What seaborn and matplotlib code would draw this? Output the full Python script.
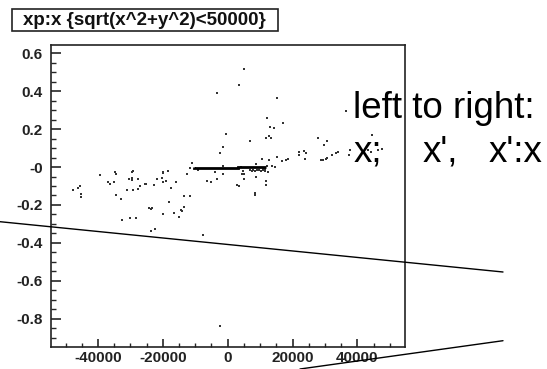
import matplotlib
matplotlib.use("Agg")
import matplotlib.pyplot as plt
import seaborn as sns
import numpy as np
import pandas as pd
from matplotlib.lines import Line2D
from matplotlib.patches import Rectangle
from matplotlib.ticker import FixedLocator, FixedFormatter, MultipleLocator

# ---- data ----
x_vals = [-47700, -46200, -45600, -45140, -45140, -39300, -34900, -34460, -36830, -36370,
          -34920, -34370, -32990, -30590, -29540, -29540, -27660, -29600, -29080, -30990,
          -29080, -27540, -27080, -25600, -25140, -22770, -21750, -20370, -19820, -19820,
          -18430, -18890, -19820, -17970, -24220, -23690, -23200, -19820, -32520, -30060,
          -28160, -23750, -22280, -17540, -15970, -13600, -11600, -13540, -14520, -14120,
          -16460, -14990, -7750, -2370, -12520, -11080, -11600, -9140, -1450, -2370,
          -1450, -3820, -1450, -6280, -5290, -3390, -3290, -430, 4920, 3480,
          15080, 12190, 17080, 13110, 14150, 6860, 11690, 12620, 13230, 4090,
          4800, 4550, 5020, 4920, 8710, 11690, 11690, 2950, 3420, 8310,
          8310, 8860, 10710, 12710, 15170, 16620, 18000, 18550, 12190, 13630,
          14650, 6860, 7480, 7940, 8400, 9170, 9630, 10250, 11020, 11480,
          10860, 11480, 12400, 27790, 30710, 29720, 36560, 44650, 22030, 23570,
          24090, 21850, 23880, 28710, 29320, 30340, 30770, 32310, 33320, 33940,
          37480, 37790, 43320, 44090, 46400, 47690]
y_vals = [-0.122, -0.113, -0.101, -0.144, -0.158, -0.043, -0.028, -0.035, -0.080, -0.087,
          -0.080, -0.146, -0.167, -0.065, -0.060, -0.071, -0.065, -0.028, -0.021, -0.122,
          -0.122, -0.114, -0.101, -0.087, -0.087, -0.095, -0.065, -0.057, -0.024, -0.031,
          -0.021, -0.074, -0.080, -0.183, -0.218, -0.224, -0.218, -0.248, -0.277, -0.269,
          -0.269, -0.335, -0.328, -0.109, -0.080, -0.152, -0.152, -0.211, -0.226, -0.233,
          -0.241, -0.261, -0.357, -0.838, -0.037, 0.023, -0.007, -0.013, 0.104, 0.074,
          0.008, -0.028, -0.036, -0.072, -0.079, -0.065, 0.389, 0.176, 0.519, 0.433,
          0.366, 0.258, 0.235, 0.213, 0.206, 0.140, 0.155, 0.162, 0.155, -0.001,
          -0.019, -0.037, -0.037, -0.065, -0.051, -0.074, -0.095, -0.095, -0.101, -0.139,
          -0.146, 0.016, 0.045, 0.037, 0.052, 0.030, 0.037, 0.044, 0.008, 0.007,
          0.000, -0.016, -0.021, -0.016, -0.021, -0.013, -0.016, -0.023, -0.016, -0.023,
          -0.012, -0.012, -0.026, 0.155, 0.140, 0.118, 0.298, 0.170, 0.081, 0.087,
          0.074, 0.066, 0.040, 0.037, 0.037, 0.043, 0.046, 0.064, 0.074, 0.078,
          0.066, 0.090, 0.090, 0.081, 0.090, 0.094]

prof_edges = [-10300, 3200, 11800]
prof_vals = [-0.006, 0.001]

y_ticks = [-0.8, -0.6, -0.4, -0.2, 0.0, 0.2, 0.4, 0.6]
y_ticklabels = ["-0.8", "-0.6", "-0.4", "-0.2", "-0", "0.2", "0.4", "0.6"]
x_ticks = [-40000, -20000, 0, 20000, 40000]
x_ticklabels = ["-40000", "-20000", "0", "20000", "40000"]

title_text = "xp:x {sqrt(x^2+y^2)<50000}"
note_line1 = "left to right:"
note_words = ["x;", "x',", "x':x"]

# ---- figure ----
sns.set_style("white")
plt.rcParams['font.family'] = ['Liberation Sans', 'DejaVu Sans']

W, H = 547, 369
fig = plt.figure(figsize=(W / 100, H / 100), dpi=100)
fig.patch.set_facecolor("white")
ax = fig.add_axes([51 / W, 1 - 346.7 / H, (405 - 51) / W, (346.7 - 45) / H])

df = pd.DataFrame({"x": x_vals, "y": y_vals})
sns.scatterplot(data=df, x="x", y="y", ax=ax, s=3.5, marker="s", color="#333333",
                linewidth=0, legend=False)
ax.stairs(prof_vals, prof_edges, color="black", linewidth=2)

ax.set_xlim(-54500, 54700)
ax.set_ylim(-0.948, 0.644)
ax.set_xlabel("")
ax.set_ylabel("")

ax.yaxis.set_major_locator(FixedLocator(y_ticks))
ax.yaxis.set_major_formatter(FixedFormatter(y_ticklabels))
ax.yaxis.set_minor_locator(MultipleLocator(0.05))
ax.xaxis.set_major_locator(FixedLocator(x_ticks))
ax.xaxis.set_major_formatter(FixedFormatter(x_ticklabels))
ax.xaxis.set_minor_locator(MultipleLocator(5000))

ax.tick_params(axis="y", which="major", direction="in", length=7, width=1.2,
               labelsize=11, pad=6, left=True, right=False)
ax.tick_params(axis="y", which="minor", direction="in", length=3.5, width=1.0,
               left=True, right=False)
ax.tick_params(axis="x", which="major", direction="in", length=5.5, width=1.2,
               labelsize=11, pad=3, bottom=True, top=False)
ax.tick_params(axis="x", which="minor", direction="in", length=3, width=1.0,
               bottom=True, top=False)
for lab in ax.get_xticklabels() + ax.get_yticklabels():
    lab.set_fontweight("bold")
    lab.set_color("#222222")
for sp in ax.spines.values():
    sp.set_visible(True)
    sp.set_color("#222222")
    sp.set_linewidth(1.2)

# title box
fig.add_artist(Rectangle((12 / W, 1 - 31 / H), 266 / W, 21.7 / H,
                         transform=fig.transFigure, facecolor="white",
                         edgecolor="#222222", linewidth=1.2))
fig.text(23.3 / W, 1 - 25 / H, title_text, fontsize=13.5, fontweight="bold",
         ha="left", va="baseline", color="#111111")

# notes
fig.text(352.7 / W, 1 - 118.3 / H, note_line1, fontsize=26.5, ha="left",
         va="baseline", color="black")
for word, px in zip(note_words, [353.3, 422.7, 488.3]):
    fig.text(px / W, 1 - 161.7 / H, word, fontsize=26.5, ha="left",
             va="baseline", color="black")

# overlay lines
fig.add_artist(Line2D([0, 503 / W], [1 - 221.7 / H, 1 - 272 / H],
                      transform=fig.transFigure, color="black", linewidth=1))
fig.add_artist(Line2D([300 / W, 503 / W], [0, 1 - 340.7 / H],
                      transform=fig.transFigure, color="black", linewidth=1))

fig.savefig("out.png", dpi=100, facecolor="white")
